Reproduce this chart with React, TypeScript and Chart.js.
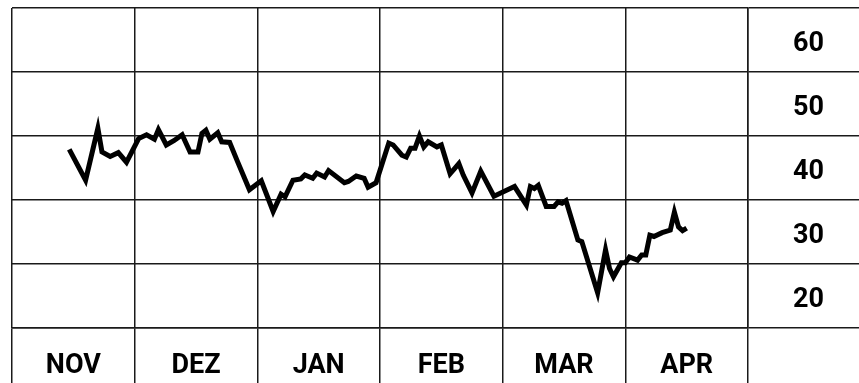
import { useEffect, useRef } from "react";
import { Chart, registerables } from "chart.js";

Chart.register(...registerables);

// Months shown on the x axis (equal width columns)
const monthLabels = ["NOV", "DEZ", "JAN", "FEB", "MAR", "APR"];
const monthLengths = [30, 31, 31, 28, 31, 30];
// Price labels shown in the right column
const yTickLabels = [20, 30, 40, 50, 60];
const yMin = 15;
const yMax = 65;

// Day offsets counted from 1 November
const dayOffsets = [
  14, 18, 21, 22, 24, 26, 28,
  31, 33, 35, 36, 38, 40, 42, 44, 46, 47, 48, 49, 51, 52, 54, 56, 59,
  62, 65, 67, 68, 70, 72, 73, 75, 76, 78, 79, 83, 84, 86, 88, 89, 91,
  94, 95, 97, 98, 99, 100, 101, 102, 103, 105, 106, 108, 110, 111, 113, 115, 118,
  123, 126, 127, 128, 129, 131, 133, 134, 135, 136, 139, 140, 144, 146, 147, 148, 150, 151,
  152, 154, 155, 156, 157, 158, 160, 162, 163, 164, 165, 166,
];
const prices = [
  42.9, 38.1, 46.2, 42.5, 41.8, 42.4, 40.9,
  44.6, 45.2, 44.5, 46.0, 43.6, 44.3, 45.2, 42.5, 42.5, 45.4, 45.9, 44.5, 45.5, 44.1, 44.0, 41.0, 36.6,
  38.0, 33.2, 35.9, 35.5, 38.1, 38.3, 38.9, 38.4, 39.2, 38.6, 39.6, 37.7, 37.9, 38.75, 38.4, 37.0, 37.7,
  43.9, 43.6, 42.0, 41.7, 43.1, 43.1, 45.0, 43.3, 44.1, 43.3, 43.6, 39.1, 40.7, 38.9, 36.1, 39.5, 35.6,
  37.1, 34.2, 37.1, 36.8, 37.3, 34.0, 34.0, 34.7, 34.5, 34.9, 28.75, 28.5, 20.5, 27.2, 24.3, 23.0, 25.2, 25.2,
  26.1, 25.6, 26.4, 26.4, 29.5, 29.3, 29.9, 30.3, 33.1, 30.8, 30.2, 30.6,
];

function dayToMonthUnits(d: number): number {
  let start = 0;
  for (let m = 0; m < monthLengths.length; m++) {
    if (d < start + monthLengths[m]) return m + (d - start) / monthLengths[m];
    start += monthLengths[m];
  }
  return monthLengths.length;
}

const GRID = "#1a1a1a";
const FONT = { family: "Roboto", size: 27, weight: "bold" as const };

export default function App() {
  const ref = useRef<HTMLCanvasElement | null>(null);

  useEffect(() => {
    if (!ref.current) return;
    const data = dayOffsets.map((d, i) => ({ x: dayToMonthUnits(d), y: prices[i] }));
    const chart = new Chart(ref.current, {
      type: "line",
      data: {
        datasets: [
          {
            data,
            borderColor: "#000",
            borderWidth: 5,
            borderJoinStyle: "miter",
            pointRadius: 0,
            tension: 0,
            fill: false,
          },
        ],
      },
      options: {
        animation: false,
        responsive: true,
        maintainAspectRatio: false,
        devicePixelRatio: 1,
        layout: { padding: { left: 12, top: 8, right: 0, bottom: 0 } },
        plugins: { legend: { display: false }, tooltip: { enabled: false } },
        scales: {
          x: {
            type: "linear",
            position: "bottom",
            min: 0,
            max: monthLabels.length,
            afterFit: (s: any) => {
              s.height = 55;
            },
            grid: {
              lineWidth: 1.5,
              tickLength: 55,
              color: (ctx: any) => (Number.isInteger(ctx.tick?.value) ? GRID : "rgba(0,0,0,0)"),
              tickColor: (ctx: any) => (Number.isInteger(ctx.tick?.value) ? GRID : "rgba(0,0,0,0)"),
            },
            border: { color: GRID, width: 1.5 },
            ticks: {
              stepSize: 0.5,
              autoSkip: false,
              maxRotation: 0,
              maxTicksLimit: 50,
              padding: -33,
              color: "#000",
              font: FONT,
              callback: (v: any) => {
                const n = Number(v);
                return Number.isInteger(n) ? "" : monthLabels[Math.floor(n)] ?? "";
              },
            },
          },
          y: {
            type: "linear",
            position: "right",
            min: yMin,
            max: yMax,
            afterFit: (s: any) => {
              s.width = 111;
            },
            grid: {
              lineWidth: 1.5,
              tickLength: 111,
              color: (ctx: any) => (yTickLabels.includes(ctx.tick?.value) ? "rgba(0,0,0,0)" : GRID),
              tickColor: (ctx: any) => (yTickLabels.includes(ctx.tick?.value) ? "rgba(0,0,0,0)" : GRID),
            },
            border: { color: GRID, width: 1.5 },
            ticks: {
              stepSize: 5,
              autoSkip: false,
              maxTicksLimit: 50,
              crossAlign: "center",
              padding: -66,
              labelOffset: 4,
              color: "#000",
              font: FONT,
              callback: (v: any) => (yTickLabels.includes(Number(v)) ? String(v) : ""),
            },
          },
        },
      },
    });
    return () => chart.destroy();
  }, []);

  return (
    <div style={{ position: "fixed", left: 0, top: 0, width: 859, height: 383, background: "#fff" }}>
      <canvas ref={ref} />
    </div>
  );
}
